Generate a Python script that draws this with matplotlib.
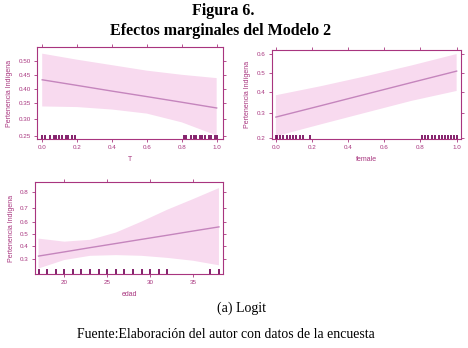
import matplotlib
matplotlib.use("Agg")
import matplotlib.pyplot as plt
from matplotlib.ticker import FixedLocator, FixedFormatter, NullLocator

plt.rcParams['font.family'] = ['Liberation Sans', 'DejaVu Sans']

# colores estilo lattice (effects de R)
C_AXIS = '#a8357f'
C_LINE = '#c585bd'
C_BAND = '#f8daef'
C_RUG = '#7a1060'

# --- Panel T ---
t_x = [0.0, 0.2, 0.4, 0.6, 0.8, 1.0]
t_fit = [0.432, 0.412, 0.392, 0.373, 0.354, 0.335]
t_lo = [0.340, 0.338, 0.330, 0.317, 0.290, 0.252]
t_hi = [0.527, 0.505, 0.485, 0.465, 0.450, 0.438]
t_rug = [0.0, 0.017, 0.046, 0.069, 0.08, 0.099, 0.114, 0.137, 0.15, 0.17, 0.189,
         0.811, 0.827, 0.851, 0.869, 0.884, 0.903, 0.918, 0.935, 0.954, 0.97, 0.989, 1.0]
t_yticks = [0.25, 0.30, 0.35, 0.40, 0.45, 0.50]
t_ylabels = ['0.25', '0.30', '0.35', '0.40', '0.45', '0.50']

# --- Panel female ---
f_x = [0.0, 0.25, 0.5, 0.75, 1.0]
f_fit = [0.280, 0.332, 0.389, 0.449, 0.510]
f_lo = [0.205, 0.250, 0.300, 0.355, 0.405]
f_hi = [0.383, 0.430, 0.483, 0.540, 0.600]
f_rug = [0.0, 0.004, 0.022, 0.04, 0.059, 0.077, 0.096, 0.114, 0.133, 0.151, 0.188,
         0.806, 0.825, 0.843, 0.862, 0.88, 0.9, 0.917, 0.935, 0.95, 0.968, 0.987, 1.0]
f_yticks = [0.2, 0.3, 0.4, 0.5, 0.6]
f_ylabels = ['0.2', '0.3', '0.4', '0.5', '0.6']

# --- Panel edad ---
e_x = [17, 20, 23, 26, 29, 32, 35, 38]
e_fit = [0.323, 0.354, 0.387, 0.420, 0.454, 0.488, 0.523, 0.557]
e_lo = [0.240, 0.295, 0.325, 0.330, 0.325, 0.310, 0.290, 0.260]
e_hi = [0.460, 0.435, 0.450, 0.510, 0.600, 0.690, 0.760, 0.820]
e_rug = [17, 18, 19, 20, 21, 22, 23, 24, 25, 26, 27, 28, 29, 30, 31, 32, 37, 38]
e_yticks = [0.3, 0.4, 0.5, 0.6, 0.7, 0.8]
e_ylabels = ['0.3', '0.4', '0.5', '0.6', '0.7', '0.8']

fig = plt.figure(figsize=(4.68, 3.48), dpi=100)
fig.patch.set_facecolor('white')


def effect_panel(rect, x, fit, lo, hi, rug, xlim, ylim, xticks, xlabels,
                 yticks, ylabels, xname):
    ax = fig.add_axes(rect)
    ax.set_yscale('logit')
    ax.fill_between(x, lo, hi, facecolor=C_BAND, edgecolor='none', zorder=1)
    ax.plot(x, fit, color=C_LINE, lw=1.0, zorder=2)
    ax.vlines(rug, 0, 0.05, transform=ax.get_xaxis_transform(),
              color=C_RUG, lw=1.3, zorder=3)
    ax.set_xlim(*xlim)
    ax.set_ylim(*ylim)
    ax.xaxis.set_major_locator(FixedLocator(xticks))
    ax.xaxis.set_major_formatter(FixedFormatter(xlabels))
    ax.yaxis.set_major_locator(FixedLocator(yticks))
    ax.yaxis.set_major_formatter(FixedFormatter(ylabels))
    ax.yaxis.set_minor_locator(NullLocator())
    ax.xaxis.set_minor_locator(NullLocator())
    for s in ax.spines.values():
        s.set_color(C_AXIS)
        s.set_linewidth(0.8)
    ax.tick_params(direction='out', top=True, right=True, length=2.5,
                   width=0.6, color=C_AXIS, labelcolor=C_AXIS,
                   labelsize=4.5, pad=2)
    ax.set_xlabel(xname, color=C_AXIS, fontsize=5, labelpad=4)
    ax.set_ylabel('Pertenencia Indígena', color=C_AXIS, fontsize=5, labelpad=4)
    return ax


effect_panel([0.079, 0.600, 0.397, 0.264], t_x, t_fit, t_lo, t_hi, t_rug,
             (-0.03, 1.035), (0.242, 0.55), [0, 0.2, 0.4, 0.6, 0.8, 1.0],
             ['0.0', '0.2', '0.4', '0.6', '0.8', '1.0'], t_yticks, t_ylabels, 'T')
effect_panel([0.581, 0.600, 0.404, 0.256], f_x, f_fit, f_lo, f_hi, f_rug,
             (-0.022, 1.024), (0.195, 0.62), [0, 0.2, 0.4, 0.6, 0.8, 1.0],
             ['0.0', '0.2', '0.4', '0.6', '0.8', '1.0'], f_yticks, f_ylabels, 'female')
effect_panel([0.075, 0.213, 0.402, 0.264], e_x, e_fit, e_lo, e_hi, e_rug,
             (16.6, 38.5), (0.209, 0.848), [20, 25, 30, 35],
             ['20', '25', '30', '35'], e_yticks, e_ylabels, 'edad')

serif = ['Liberation Serif', 'DejaVu Serif']
fig.text(0.478, 1 - 11 / 348, 'Figura 6.', ha='center', va='center', fontsize=11.5,
         fontweight='bold', family=serif)
fig.text(0.471, 1 - 31 / 348, 'Efectos marginales del Modelo 2', ha='center',
         va='center', fontsize=11.5, fontweight='bold', family=serif)
fig.text(0.515, 1 - 308 / 348, '(a) Logit', ha='center', va='center', fontsize=10,
         family=serif)
fig.text(0.482, 1 - 335 / 348, 'Fuente:Elaboración del autor con datos de la encuesta',
         ha='center', va='center', fontsize=9.9, family=serif)

fig.savefig('out.png', dpi=100)
